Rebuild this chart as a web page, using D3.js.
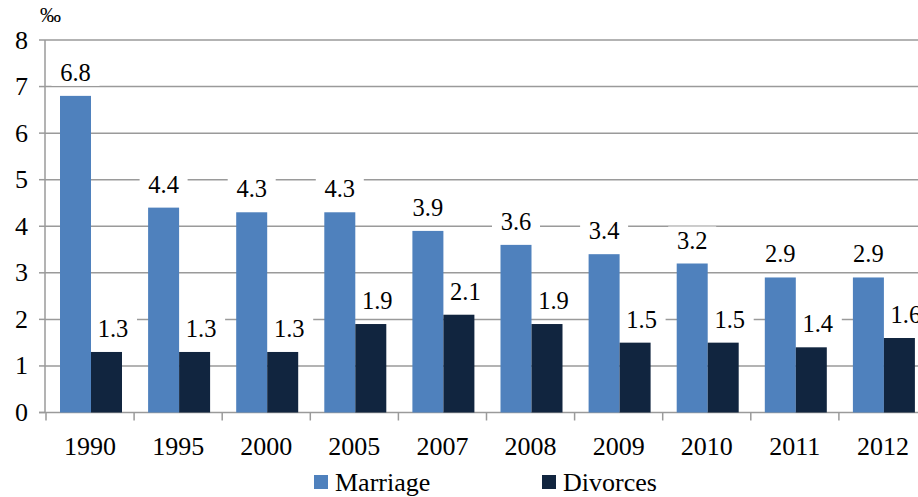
<!DOCTYPE html>
<html>
<head>
<meta charset="utf-8">
<script src="https://cdn.jsdelivr.net/npm/d3@7"></script>
<style>
  body { margin: 0; background: #fff; }
</style>
</head>
<body>
<div id="chart"></div>
<script>
// --- data ---
const years = ["1990", "1995", "2000", "2005", "2007", "2008", "2009", "2010", "2011", "2012"];
const marriage = [6.8, 4.4, 4.3, 4.3, 3.9, 3.6, 3.4, 3.2, 2.9, 2.9];
const divorces = [1.3, 1.3, 1.3, 1.9, 2.1, 1.9, 1.5, 1.5, 1.4, 1.6];
const seriesNames = ["Marriage", "Divorces"];
const yTicks = [0, 1, 2, 3, 4, 5, 6, 7, 8];

const W = 918, H = 497;
const colors = { Marriage: "#4F81BD", Divorces: "#11253F" };
const gridColor = "#9a9a9a";

const svg = d3.select("#chart").append("svg")
  .attr("width", W).attr("height", H)
  .style("display", "block")
  .attr("font-family", "'Liberation Serif', 'Times New Roman', 'DejaVu Serif', serif");

// --- scales ---
const x0 = d3.scaleBand().domain(years).range([46, 927]).paddingInner(0).paddingOuter(0);
const x1 = d3.scaleBand().domain(seriesNames).range([14, 76]);
const y = d3.scaleLinear().domain([0, 8]).range([412.5, 40]);

// --- gridlines ---
svg.append("g").selectAll("line")
  .data(yTicks.filter(d => d > 0))
  .join("line")
  .attr("x1", 45).attr("x2", W)
  .attr("y1", d => y(d)).attr("y2", d => y(d))
  .attr("stroke", gridColor).attr("stroke-width", 1.5);

// --- y axis ---
svg.append("line")
  .attr("x1", 45).attr("x2", 45)
  .attr("y1", y(8)).attr("y2", y(0))
  .attr("stroke", gridColor).attr("stroke-width", 1.5);
svg.append("g").selectAll("line")
  .data(yTicks)
  .join("line")
  .attr("x1", 39).attr("x2", 45)
  .attr("y1", d => y(d)).attr("y2", d => y(d))
  .attr("stroke", gridColor).attr("stroke-width", 1.5);
svg.append("g").selectAll("text")
  .data(yTicks)
  .join("text")
  .attr("x", 28).attr("y", d => y(d) + 8.5)
  .attr("text-anchor", "end")
  .attr("font-size", 26)
  .text(d => d);
svg.append("text")
  .attr("x", 40).attr("y", 22)
  .attr("font-size", 21)
  .text("‰");

// --- x axis ---
svg.append("line")
  .attr("x1", 39).attr("x2", W)
  .attr("y1", y(0)).attr("y2", y(0))
  .attr("stroke", gridColor).attr("stroke-width", 1.5);
svg.append("g").selectAll("line")
  .data(years)
  .join("line")
  .attr("x1", d => x0(d)).attr("x2", d => x0(d))
  .attr("y1", y(0)).attr("y2", y(0) + 8)
  .attr("stroke", gridColor).attr("stroke-width", 1.5);
svg.append("g").selectAll("text")
  .data(years)
  .join("text")
  .attr("x", d => x0(d) + x0.bandwidth() / 2)
  .attr("y", 455)
  .attr("text-anchor", "middle")
  .attr("font-size", 26)
  .text(d => d);

// --- bars + value labels ---
const rows = years.map((yr, i) => ({ year: yr, Marriage: marriage[i], Divorces: divorces[i] }));
const groups = svg.append("g").selectAll("g")
  .data(rows)
  .join("g")
  .attr("transform", d => `translate(${x0(d.year)},0)`);

const cells = d => seriesNames.map(k => ({ key: k, value: d[k] }));
const labelX = d => x1(d.key) + x1.bandwidth() / 2 + (d.key === "Divorces" ? 6.5 : 0);

// white boxes behind labels go first so the bars sit on top
groups.selectAll("rect.box")
  .data(cells)
  .join("rect")
  .attr("class", "box")
  .attr("x", d => labelX(d) - 24).attr("width", 48)
  .attr("y", d => y(d.value) - 37).attr("height", 27)
  .attr("fill", "#fff");

groups.selectAll("rect.bar")
  .data(cells)
  .join("rect")
  .attr("class", "bar")
  .attr("x", d => x1(d.key))
  .attr("width", x1.bandwidth())
  .attr("y", d => y(d.value))
  .attr("height", d => y(0) - y(d.value))
  .attr("fill", d => colors[d.key]);

groups.selectAll("text.val")
  .data(cells)
  .join("text")
  .attr("class", "val")
  .attr("x", labelX)
  .attr("y", d => y(d.value) - 15)
  .attr("text-anchor", "middle")
  .attr("font-size", 24.5)
  .text(d => d.value.toFixed(1));

// --- legend ---
const legendX = [314, 542];
const legend = svg.append("g").selectAll("g")
  .data(seriesNames)
  .join("g")
  .attr("transform", (d, i) => `translate(${legendX[i]},0)`);
legend.append("rect")
  .attr("x", 0).attr("y", 475)
  .attr("width", 14).attr("height", 14)
  .attr("fill", d => colors[d]);
legend.append("text")
  .attr("x", 21).attr("y", 491)
  .attr("font-size", 26)
  .text(d => d);
</script>
</body>
</html>
